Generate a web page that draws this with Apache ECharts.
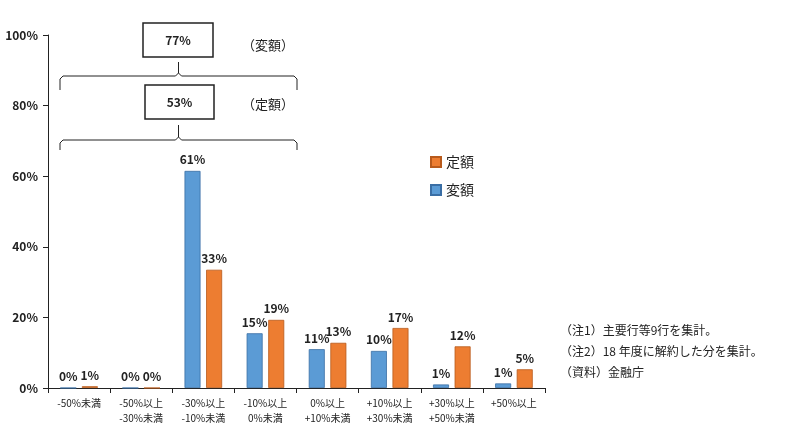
<!DOCTYPE html>
<html>
<head>
<meta charset="utf-8">
<script src="https://cdn.jsdelivr.net/npm/echarts@6/dist/echarts.min.js"></script>
<style>body{margin:0;background:#fff}#main{width:800px;height:427px}</style>
</head>
<body>
<div id="main"></div>
<script>
const categories = ['-50%未満', '-50%以上\n-30%未満', '-30%以上\n-10%未満', '-10%以上\n0%未満',
    '0%以上\n+10%未満', '+10%以上\n+30%未満', '+30%以上\n+50%未満', '+50%以上'];
const hengaku = [0, 0, 61.5, 15.5, 11, 10.5, 1, 1.3];   // 変額
const teigaku = [0.5, 0, 33.5, 19.3, 12.8, 17, 11.8, 5.3]; // 定額
const hengakuLabels = ['0%', '0%', '61%', '15%', '11%', '10%', '1%', '1%'];
const teigakuLabels = ['1%', '0%', '33%', '19%', '13%', '17%', '12%', '5%'];
const yTicks = [0, 20, 40, 60, 80, 100];

const font = '"Noto Sans CJK JP", sans-serif';

// bracket path: flat line with a small peak in the middle
function bracket(x1, x2, yEnd, yLine, yPeak) {
    const mid = (x1 + x2) / 2;
    return {
        type: 'polyline',
        shape: { points: [[x1, yEnd], [x1, yLine + 3], [x1 + 3, yLine], [mid - 3, yLine], [mid, yLine - 3], [mid, yPeak],
            [mid, yLine - 3], [mid + 3, yLine], [x2 - 3, yLine], [x2, yLine + 3], [x2, yEnd]] },
        style: { stroke: '#222', lineWidth: 1, fill: null }
    };
}
function box(x, y, w, h, text) {
    return [
        { type: 'rect', shape: { x: x, y: y, width: w, height: h }, style: { stroke: '#222', lineWidth: 1.5, fill: '#fff' } },
        { type: 'text', x: x + w / 2, y: y + h / 2, style: { text: text, font: 'bold 12px ' + font, fill: '#222', align: 'center', verticalAlign: 'middle' } }
    ];
}

let chart = echarts.init(document.getElementById('main'));
chart.setOption({
    animation: false,
    grid: { left: 48, top: 35, width: 497, height: 353 },
    legend: {
        data: ['定額', '変額'], orient: 'vertical', left: 425, top: 150, itemGap: 14,
        icon: 'rect', itemWidth: 10, itemHeight: 10, textStyle: { fontSize: 14, fontFamily: font, color: '#222' }
    },
    xAxis: {
        type: 'category', data: categories,
        axisLine: { lineStyle: { color: '#222' } },
        axisTick: { show: true, alignWithLabel: false, lineStyle: { color: '#222' } },
        axisLabel: { interval: 0, fontSize: 10, fontFamily: font, color: '#222', lineHeight: 15 }
    },
    yAxis: {
        type: 'value', min: 0, max: 100, interval: 20,
        splitLine: { show: false },
        axisLine: { show: true, lineStyle: { color: '#222' } },
        axisTick: { show: true, lineStyle: { color: '#222' } },
        axisLabel: { formatter: v => yTicks.includes(v) ? v + '%' : '', fontSize: 12, fontWeight: 'bold', fontFamily: font, color: '#222', margin: 10 }
    },
    series: [
        {
            name: '変額', type: 'bar', data: hengaku, barWidth: 16, barGap: '35%',
            itemStyle: { color: '#5b9bd5', borderColor: '#3a6ea5', borderWidth: 0.8 },
            label: { show: true, position: 'top', formatter: p => hengakuLabels[p.dataIndex], fontSize: 12, fontWeight: 'bold', fontFamily: font, color: '#222' }
        },
        {
            name: '定額', type: 'bar', data: teigaku, barWidth: 16,
            itemStyle: { color: '#ed7d31', borderColor: '#b85a1c', borderWidth: 0.8 },
            label: { show: true, position: 'top', formatter: p => teigakuLabels[p.dataIndex], fontSize: 12, fontWeight: 'bold', fontFamily: font, color: '#222' }
        }
    ],
    graphic: [
        bracket(60, 297, 90, 76, 62),
        bracket(60, 297, 150, 140, 125),
        ...box(143, 23, 70, 34, '77%'),
        ...box(145, 85, 69, 34, '53%'),
        { type: 'text', x: 242, y: 45, style: { text: '（変額）', font: '13px ' + font, fill: '#222', verticalAlign: 'middle' } },
        { type: 'text', x: 242, y: 104, style: { text: '（定額）', font: '13px ' + font, fill: '#222', verticalAlign: 'middle' } },
        { type: 'text', x: 560, y: 320, style: { text: '（注1）主要行等9行を集計。\n（注2）18 年度に解約した分を集計。\n（資料）金融庁', font: '12px ' + font, fill: '#222', lineHeight: 21 } }
    ]
});
</script>
</body>
</html>
